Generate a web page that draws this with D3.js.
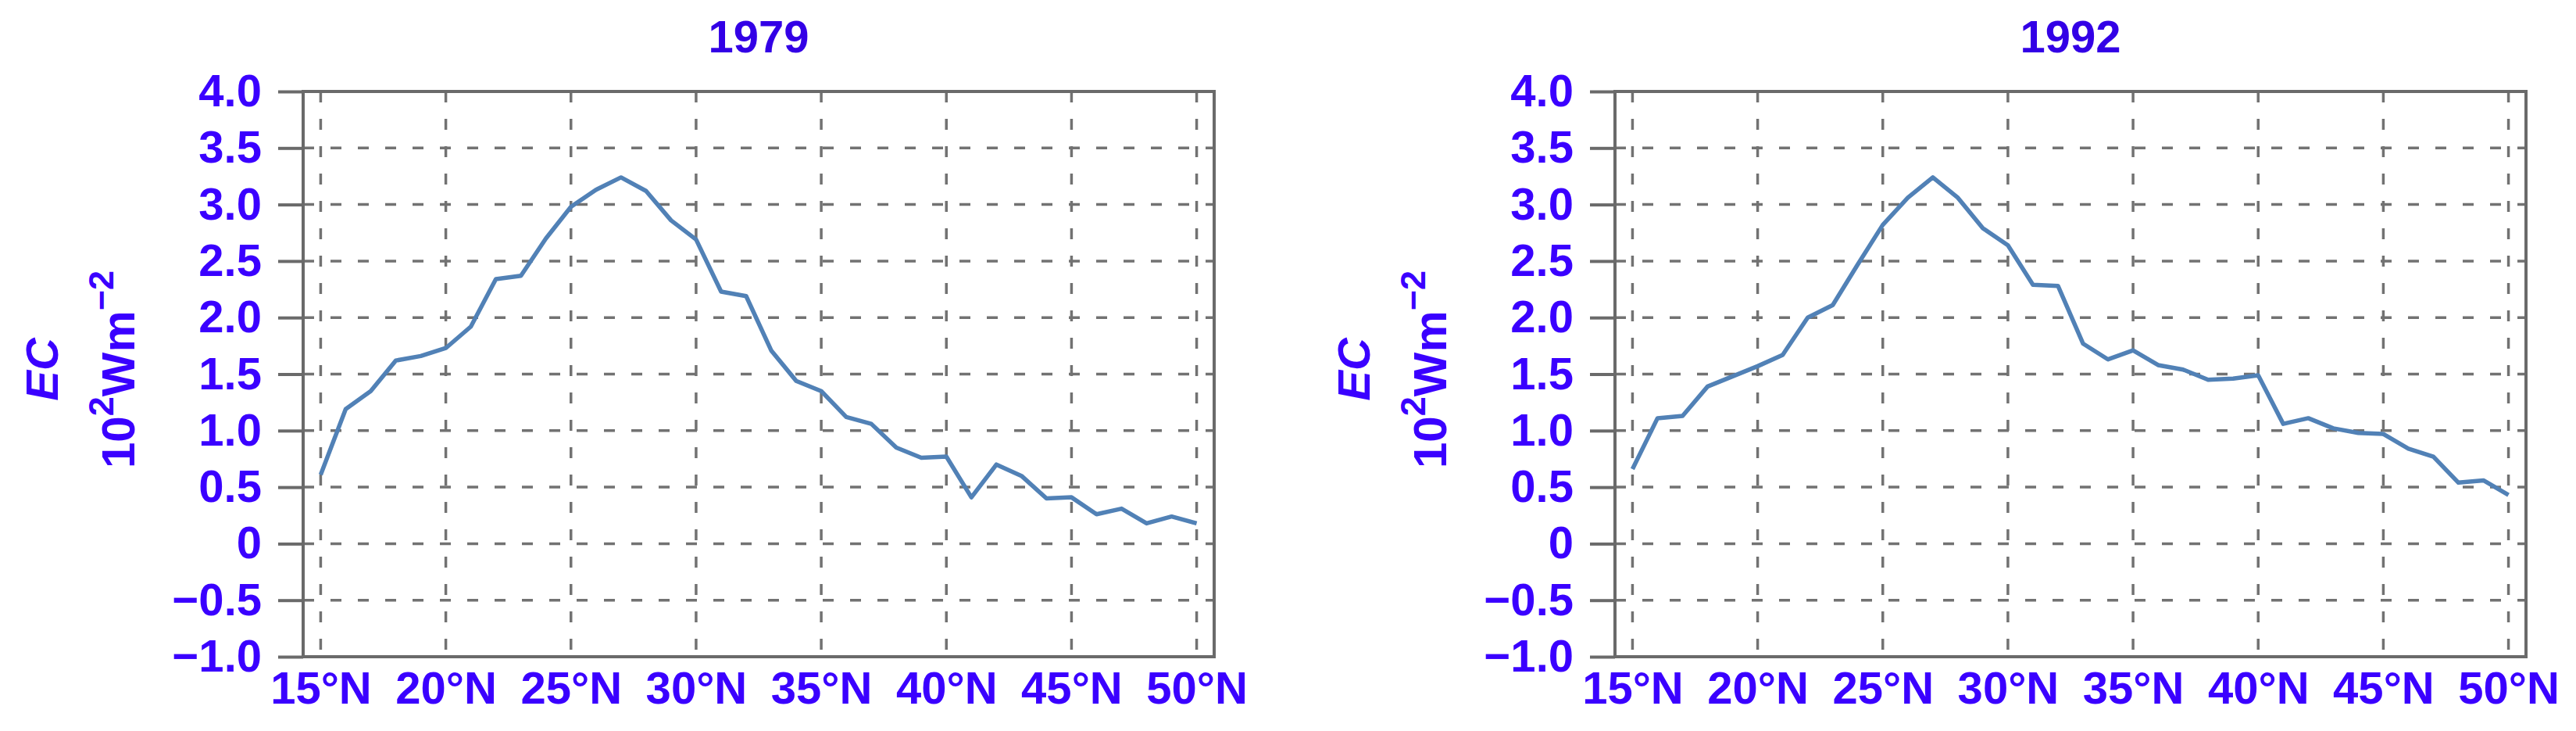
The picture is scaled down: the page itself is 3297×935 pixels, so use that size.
<!DOCTYPE html>
<html>
<head>
<meta charset="utf-8">
<script src="https://cdn.jsdelivr.net/npm/d3@7"></script>
<style>
body { margin: 0; background: #fff; }
svg text { font-family: "Liberation Sans", Arial, sans-serif; font-weight: bold; fill: #3a00ff; }
</style>
</head>
<body>
<script>
// EC profiles by latitude
var latitudes = [15, 16, 17, 18, 19, 20, 21, 22, 23, 24, 25, 26, 27, 28, 29, 30, 31, 32,
                 33, 34, 35, 36, 37, 38, 39, 40, 41, 42, 43, 44, 45, 46, 47, 48, 49, 50];
var ec1979 = [0.61, 1.19, 1.35, 1.62, 1.66, 1.73, 1.92, 2.34, 2.37, 2.70, 2.98, 3.13, 3.24, 3.12,
              2.86, 2.69, 2.23, 2.19, 1.71, 1.44, 1.35, 1.12, 1.06, 0.85, 0.76, 0.77, 0.41, 0.70,
              0.60, 0.40, 0.41, 0.26, 0.31, 0.18, 0.24, 0.18];
var ec1992 = [0.66, 1.11, 1.13, 1.39, 1.48, 1.57, 1.67, 2.00, 2.11, 2.47, 2.82, 3.06, 3.24, 3.06,
              2.79, 2.64, 2.29, 2.28, 1.77, 1.63, 1.71, 1.58, 1.54, 1.45, 1.46, 1.49, 1.06, 1.11,
              1.02, 0.98, 0.97, 0.84, 0.77, 0.54, 0.56, 0.43];
var panelTitles = ["1979", "1992"];
var yTicks = [4, 3.5, 3, 2.5, 2, 1.5, 1, 0.5, 0, -0.5, -1];
var yTickLabels = ["4.0", "3.5", "3.0", "2.5", "2.0", "1.5", "1.0", "0.5", "0", "\u22120.5", "\u22121.0"];
var xTicks = [15, 20, 25, 30, 35, 40, 45, 50];
var xTickLabels = ["15°N", "20°N", "25°N", "30°N", "35°N", "40°N", "45°N", "50°N"];

// layout
var W = 3297, H = 935;
var plotTop = 117, plotBottom = 840, plotWidth = 1166;
var panelLefts = [388, 2067];
var gridColor = "#727272", frameColor = "#6a6a6a", lineColor = "#5181b6";

var svg = d3.select("body").append("svg")
    .attr("width", W)
    .attr("height", H);

var yScale = d3.scaleLinear().domain([-1, 4]).range([plotBottom, plotTop]);

var panels = [
    {title: panelTitles[0], values: ec1979, left: panelLefts[0]},
    {title: panelTitles[1], values: ec1992, left: panelLefts[1]}
];

panels.forEach(function(p) {
    var xScale = d3.scaleLinear().domain([14.3, 50.7]).range([p.left, p.left + plotWidth]);
    var right = p.left + plotWidth;
    var g = svg.append("g");

    // dashed grid
    g.selectAll(".hgrid")
        .data(yTicks)
        .enter().append("line")
        .attr("class", "hgrid")
        .attr("x1", p.left).attr("x2", right)
        .attr("y1", function(d) { return yScale(d); })
        .attr("y2", function(d) { return yScale(d); })
        .attr("stroke", gridColor)
        .attr("stroke-width", 3.5)
        .attr("stroke-dasharray", "14,21");

    g.selectAll(".vgrid")
        .data(xTicks)
        .enter().append("line")
        .attr("class", "vgrid")
        .attr("x1", function(d) { return xScale(d); })
        .attr("x2", function(d) { return xScale(d); })
        .attr("y1", plotTop).attr("y2", plotBottom)
        .attr("stroke", gridColor)
        .attr("stroke-width", 3.5)
        .attr("stroke-dasharray", "14,21");

    // frame
    g.append("rect")
        .attr("x", p.left).attr("y", plotTop)
        .attr("width", plotWidth).attr("height", plotBottom - plotTop)
        .attr("fill", "none")
        .attr("stroke", frameColor)
        .attr("stroke-width", 4);

    // y axis: outward ticks + labels
    var yAxis = d3.axisLeft(yScale)
        .tickValues(yTicks)
        .tickFormat(function(d, i) { return yTickLabels[i]; })
        .tickSize(32)
        .tickPadding(21);
    var ya = g.append("g")
        .attr("transform", "translate(" + p.left + ",0)")
        .call(yAxis);
    ya.select(".domain").remove();
    ya.selectAll(".tick line").attr("stroke", frameColor).attr("stroke-width", 4);
    ya.selectAll(".tick text").style("font-size", "58px");

    // x axis labels
    var xAxis = d3.axisBottom(xScale)
        .tickValues(xTicks)
        .tickFormat(function(d, i) { return xTickLabels[i]; })
        .tickSize(0)
        .tickPadding(19);
    var xa = g.append("g")
        .attr("transform", "translate(0," + plotBottom + ")")
        .call(xAxis);
    xa.select(".domain").remove();
    xa.selectAll(".tick text").style("font-size", "58px");

    // the EC line
    var line = d3.line()
        .x(function(d, i) { return xScale(latitudes[i]); })
        .y(function(d) { return yScale(d); });
    g.append("path")
        .datum(p.values)
        .attr("d", line)
        .attr("fill", "none")
        .attr("stroke", lineColor)
        .attr("stroke-width", 5.5)
        .attr("stroke-linejoin", "round");

    // title
    g.append("text")
        .attr("x", (p.left + right) / 2)
        .attr("y", 67)
        .attr("text-anchor", "middle")
        .style("font-size", "58px")
        .style("fill", "#3300e6")
        .text(p.title);

    // y axis title, two rotated lines
    var midY = (plotTop + plotBottom) / 2 - 6;
    g.append("text")
        .attr("transform", "translate(" + (p.left - 314) + "," + midY + ") rotate(-90)")
        .attr("text-anchor", "middle")
        .style("font-size", "58px")
        .style("font-style", "italic")
        .text("EC");

    var unit = g.append("text")
        .attr("transform", "translate(" + (p.left - 216) + "," + midY + ") rotate(-90)")
        .attr("text-anchor", "middle")
        .style("font-size", "60px");
    unit.append("tspan").text("10");
    unit.append("tspan").attr("dy", -27).style("font-size", "45px").text("2");
    unit.append("tspan").attr("dy", 27).text("Wm");
    unit.append("tspan").attr("dy", -27).style("font-size", "45px").text("\u22122");
});
</script>
</body>
</html>
